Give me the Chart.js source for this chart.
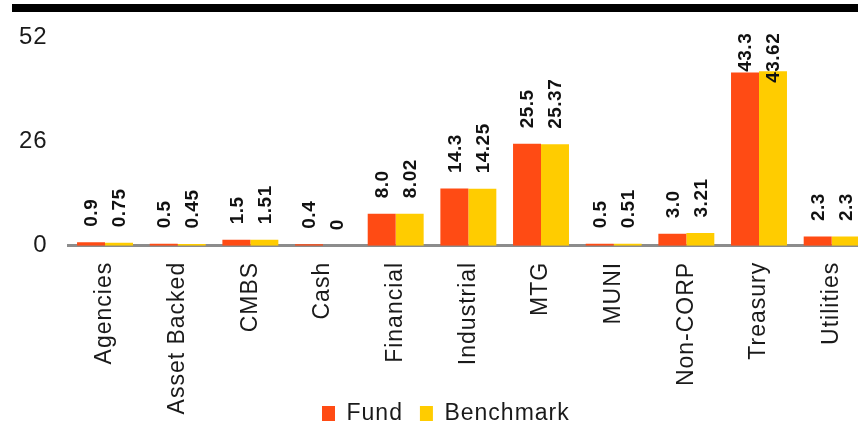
<!DOCTYPE html>
<html>
<head>
<meta charset="utf-8">
<script src="https://cdn.jsdelivr.net/npm/chart.js@4/dist/chart.umd.min.js"></script>
<style>
  html, body { margin: 0; padding: 0; background: #fff; overflow: hidden; }
  body { width: 858px; height: 425px; position: relative; }
  #rule { position: absolute; left: 12px; top: 4px; width: 846px; height: 8px; background: #000; }
  #wrap { position: absolute; left: 0; top: 0; width: 880px; height: 425px; }
</style>
</head>
<body>
<div id="wrap"><canvas id="chart" width="880" height="425"></canvas></div>
<div id="rule"></div>
<script>
// Sector weights, fund vs benchmark (%)
const categories = ['Agencies', 'Asset Backed', 'CMBS', 'Cash', 'Financial', 'Industrial', 'MTG', 'MUNI', 'Non-CORP', 'Treasury', 'Utilities'];
const fundValues = [0.9, 0.5, 1.5, 0.4, 8.0, 14.3, 25.5, 0.5, 3.0, 43.3, 2.3];
const benchmarkValues = [0.75, 0.45, 1.51, 0, 8.02, 14.25, 25.37, 0.51, 3.21, 43.62, 2.3];
const fundLabels = fundValues.map(v => v.toFixed(1));
const benchmarkLabels = benchmarkValues.map(v => String(v));
const yTicks = [0, 26, 52];

const FONT = "'Liberation Sans', Arial, sans-serif";
const TEXT = '#1a1a1a';
const LEGEND_FONT = 23;
const LEGEND_PAD = 17;

// Slightly wide tracking for axis and legend text
const tracking = {
  id: 'tracking',
  beforeUpdate(chart) { chart.ctx.letterSpacing = '1px'; },
  beforeDraw(chart) { chart.ctx.letterSpacing = '1px'; }
};

// The legend is laid out below the canvas so the category labels get the
// full height; it is then placed in the strip under the longest labels.
const legendPlace = {
  id: 'legendPlace',
  afterLayout(chart) {
    const lg = chart.legend;
    const h = lg.height, w = lg.width;
    lg.left = 322 - LEGEND_PAD; lg.right = lg.left + w;
    lg.top = 413.5 - LEGEND_PAD - LEGEND_FONT / 2; lg.bottom = lg.top + h;
  }
};

// Vertical value labels above each bar, kept inside the plot top
const valueLabels = {
  id: 'valueLabels',
  afterDatasetsDraw(chart) {
    const ctx = chart.ctx;
    const texts = [fundLabels, benchmarkLabels];
    const minTop = chart.chartArea.top - 5;
    ctx.save();
    ctx.letterSpacing = '0.5px';
    ctx.font = 'bold 19px ' + FONT;
    ctx.fillStyle = '#111';
    ctx.textAlign = 'left';
    ctx.textBaseline = 'middle';
    chart.data.datasets.forEach((ds, di) => {
      chart.getDatasetMeta(di).data.forEach((bar, i) => {
        const label = texts[di][i];
        const w = ctx.measureText(label).width;
        let start = bar.y - 15.5;
        if (start - w < minTop) start = minTop + w;
        ctx.save();
        ctx.translate(bar.x, start);
        ctx.rotate(-Math.PI / 2);
        ctx.fillText(label, 0, 1);
        ctx.restore();
      });
    });
    ctx.restore();
  }
};

new Chart(document.getElementById('chart'), {
  type: 'bar',
  data: {
    labels: categories,
    datasets: [
      { label: 'Fund', data: fundValues, backgroundColor: '#FF4B14', borderWidth: 0,
        categoryPercentage: 0.77, barPercentage: 1.0 },
      { label: 'Benchmark', data: benchmarkValues, backgroundColor: '#FFCC00', borderWidth: 0,
        categoryPercentage: 0.77, barPercentage: 1.0 }
    ]
  },
  options: {
    responsive: false,
    animation: false,
    layout: { padding: { top: 37.8, right: 12, left: 0, bottom: -(LEGEND_FONT + LEGEND_PAD + 10) } },
    plugins: {
      legend: {
        position: 'bottom',
        align: 'start',
        labels: {
          boxWidth: 13, boxHeight: 15, padding: LEGEND_PAD,
          color: TEXT,
          font: { family: FONT, size: LEGEND_FONT }
        }
      },
      tooltip: { enabled: false }
    },
    scales: {
      x: {
        grid: { display: false, drawTicks: false },
        border: { display: true, color: '#8c8c8c', width: 3 },
        ticks: {
          autoSkip: false, maxRotation: 90, minRotation: 90, padding: 16,
          color: TEXT, font: { family: FONT, size: 23 }
        },
        afterFit(scale) { scale.height = 425 - 245.8; }
      },
      y: {
        min: 0, max: 52,
        grid: { display: false, drawTicks: false },
        border: { display: false },
        afterBuildTicks(scale) { scale.ticks = yTicks.map(v => ({ value: v })); },
        ticks: {
          padding: 21, color: TEXT,
          font: { family: FONT, size: 24 }
        },
        afterFit(scale) { scale.width = 68.7; }
      }
    }
  },
  plugins: [tracking, legendPlace, valueLabels]
});
</script>
</body>
</html>
